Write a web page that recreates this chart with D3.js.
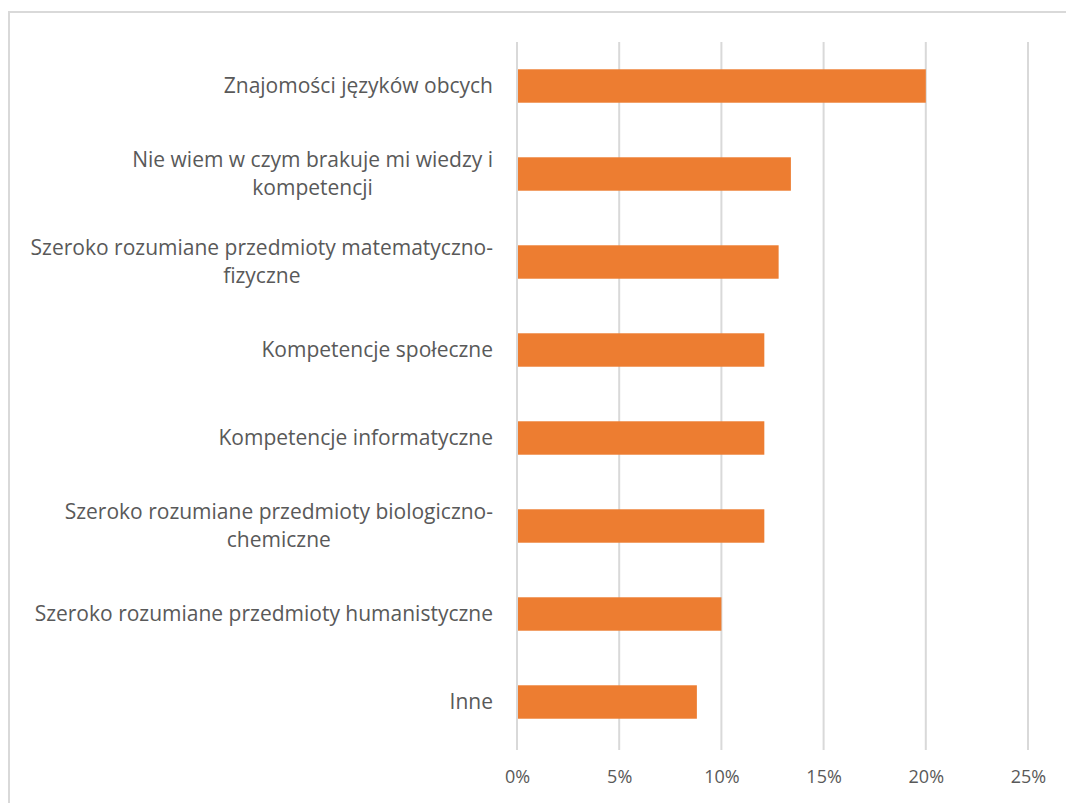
<!DOCTYPE html>
<meta charset="utf-8">
<head>
    <title>Braki wiedzy</title>
    <script src="https://cdn.jsdelivr.net/npm/d3@7"></script>
    <style>
        html, body {
            margin: 0;
            padding: 0;
            background: white;
        }
        text {
            font-family: "Open Sans", sans-serif;
            fill: #595959;
        }
    </style>
</head>
<body>
    <div id="chart"></div>
    <script>
        // data (top to bottom)
        var categories = [
            "Znajomości języków obcych",
            "Nie wiem w czym brakuje mi wiedzy i|kompetencji",
            "Szeroko rozumiane przedmioty matematyczno-|fizyczne",
            "Kompetencje społeczne",
            "Kompetencje informatyczne",
            "Szeroko rozumiane przedmioty biologiczno-|chemiczne",
            "Szeroko rozumiane przedmioty humanistyczne",
            "Inne"
        ];
        var values = [20.0, 13.4, 12.8, 12.1, 12.1, 12.1, 10.0, 8.8];
        var tickValues = [0, 5, 10, 15, 20, 25];

        var width = 1066, height = 803;
        var margin = {top: 42, right: 38, bottom: 57, left: 517};

        var svg = d3.select("#chart").append("svg")
            .attr("width", width)
            .attr("height", height);

        // chart area frame (cut off at right and bottom)
        svg.append("rect")
            .attr("x", 9).attr("y", 12)
            .attr("width", 1100).attr("height", 900)
            .attr("fill", "none")
            .attr("stroke", "#d9d9d9")
            .attr("stroke-width", 2);

        var x = d3.scaleLinear()
            .domain([0, 25])
            .range([margin.left, width - margin.right]);

        var y = d3.scaleBand()
            .domain(categories)
            .range([margin.top, height - margin.bottom])
            .paddingInner(0.62)
            .paddingOuter(0.31);

        // gridlines
        svg.append("g")
            .selectAll("line")
            .data(tickValues)
            .enter()
            .append("line")
            .attr("x1", d => x(d)).attr("x2", d => x(d))
            .attr("y1", margin.top).attr("y2", height - margin.bottom + 4)
            .attr("stroke", "#d9d9d9")
            .attr("stroke-width", 2);

        // x axis labels
        var xAxis = d3.axisBottom(x)
            .tickValues(tickValues)
            .tickFormat(d => d + "%")
            .tickSize(0)
            .tickPadding(24);
        var gx = svg.append("g")
            .attr("transform", "translate(0," + (height - margin.bottom) + ")")
            .call(xAxis);
        gx.select(".domain").remove();
        gx.selectAll("text")
            .style("font-size", "18px")
            .attr("fill", "#595959");

        // bars
        svg.append("g")
            .selectAll("rect")
            .data(values)
            .enter()
            .append("rect")
            .attr("x", x(0) + 1)
            .attr("y", (d, i) => y(categories[i]))
            .attr("width", d => x(d) - x(0) - 1)
            .attr("height", y.bandwidth())
            .attr("fill", "#ed7d31");

        // category labels, wrapped where the original wraps
        var labels = svg.append("g")
            .selectAll("text")
            .data(categories)
            .enter()
            .append("text")
            .attr("text-anchor", "end")
            .style("font-size", "21px")
            .attr("y", d => y(d) + y.bandwidth() / 2);

        labels.each(function(d) {
            var lines = d.split("|");
            var t = d3.select(this);
            var lh = 28;
            lines.forEach(function(line, k) {
                t.append("tspan")
                    .attr("x", 493)
                    .attr("dy", k == 0 ? (-(lines.length - 1) * lh / 2 + 7) : lh)
                    .text(line);
            });
        });

        // second line is centred under the first, like the original
        labels.each(function(d) {
            var lines = d.split("|");
            if (lines.length < 2) return;
            var spans = d3.select(this).selectAll("tspan").nodes();
            var w0 = spans[0].getComputedTextLength();
            var centre = 493 - w0 / 2;
            spans.forEach(function(s) {
                d3.select(s).attr("x", centre).attr("text-anchor", "middle");
            });
        });
    </script>
</body>
</html>
